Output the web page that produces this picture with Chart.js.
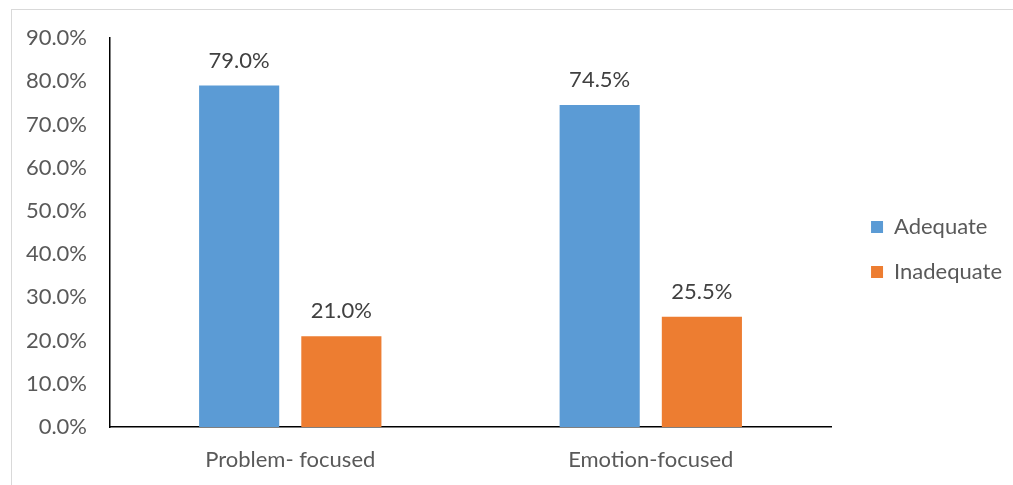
<!DOCTYPE html>
<html>
<head>
<meta charset="utf-8">
<script src="https://cdn.jsdelivr.net/npm/chart.js@4.4.1/dist/chart.umd.min.js"></script>
<style>
    html, body { margin: 0; padding: 0; background: #fff; }
    #wrap { position: relative; width: 1013px; height: 485px; }
    #frame {
        position: absolute; left: 11px; top: 9px; right: 0; bottom: 0;
        border-left: 1px solid #d9d9d9; border-top: 1px solid #d9d9d9;
    }
    canvas { position: absolute; left: 0; top: 0; }
</style>
</head>
<body>
<div id="wrap">
    <div id="frame"></div>
    <canvas id="chart" width="1013" height="485"></canvas>
</div>
<script>
const categories = ['Problem- focused', 'Emotion-focused'];
const adequate = [79.0, 74.5];
const inadequate = [21.0, 25.5];
const y_ticks = [0, 10, 20, 30, 40, 50, 60, 70, 80, 90];

const FONT = 'Lato, "Open Sans", sans-serif';

// draws the value above each bar, like excel data labels
const valueLabels = {
    id: 'valueLabels',
    afterDatasetsDraw(chart) {
        const ctx = chart.ctx;
        ctx.save();
        ctx.font = '22px ' + FONT;
        ctx.fillStyle = '#404040';
        ctx.textAlign = 'center';
        ctx.textBaseline = 'bottom';
        chart.data.datasets.forEach((ds, i) => {
            chart.getDatasetMeta(i).data.forEach((bar, j) => {
                ctx.fillText(ds.data[j].toFixed(1) + '%', bar.x, bar.y - 14);
            });
        });
        ctx.restore();
    }
};

// nudge the legend so it sits where excel put it
const legendNudge = {
    id: 'legendNudge',
    afterLayout(chart) {
        const lg = chart.legend;
        lg.left += 17; lg.right += 17;
        lg.top -= 12; lg.bottom -= 12;
    }
};

new Chart(document.getElementById('chart').getContext('2d'), {
    type: 'bar',
    data: {
        labels: categories,
        datasets: [
            { label: 'Adequate', data: adequate, backgroundColor: '#5B9BD5' },
            { label: 'Inadequate', data: inadequate, backgroundColor: '#ED7D31' }
        ]
    },
    options: {
        responsive: false,
        animation: false,
        layout: { padding: { top: 38, bottom: 0, left: 0, right: 18 } },
        datasets: { bar: { categoryPercentage: 0.567, barPercentage: 0.784 } },
        plugins: {
            tooltip: { enabled: false },
            legend: {
                position: 'right',
                labels: {
                    boxWidth: 12, boxHeight: 12, padding: 23,
                    color: '#595959', font: { family: FONT, size: 22 }
                }
            }
        },
        scales: {
            x: {
                afterFit: (axis) => { axis.height = 58; },
                grid: { display: false },
                border: { display: true, color: '#000', width: 1.5 },
                ticks: { color: '#595959', padding: 12, font: { family: FONT, size: 22 } }
            },
            y: {
                min: 0, max: 90,
                afterBuildTicks: (axis) => { axis.ticks = y_ticks.map(v => ({ value: v })); },
                afterFit: (axis) => { axis.width = 110; },
                grid: { display: false },
                border: { display: true, color: '#000', width: 1.5 },
                ticks: {
                    color: '#595959', padding: 15, font: { family: FONT, size: 22 },
                    callback: (v) => v.toFixed(1) + '%'
                }
            }
        }
    },
    plugins: [valueLabels, legendNudge]
});
</script>
</body>
</html>
